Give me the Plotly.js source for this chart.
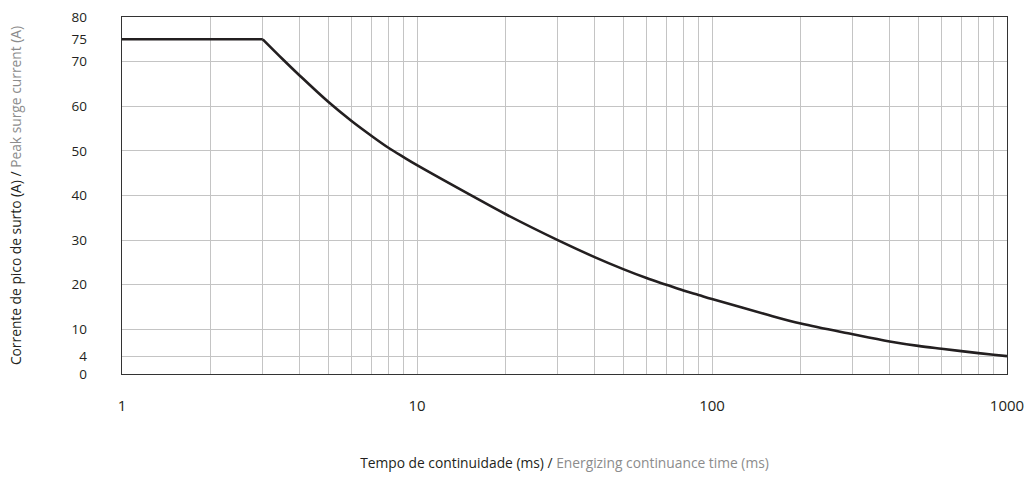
<!DOCTYPE html>
<html>
<head>
<meta charset="utf-8">
<script src="https://cdn.plot.ly/plotly-3.0.1.min.js"></script>
<style>html,body{margin:0;padding:0;background:#fff;}#chart{width:1031px;height:482px;}</style>
</head>
<body>
<div id="chart"></div>
<script>
// Energizing continuance time (ms)
const timeMs = [1, 3, 3.5, 4, 5, 6, 7, 8, 9, 10, 15, 20, 30, 40, 50, 60, 70, 80, 90, 100, 150, 200, 300, 400, 500, 600, 700, 800, 900, 1000];
// Peak surge current (A)
const currentA = [75, 75, 70.6, 66.9, 61.0, 56.7, 53.4, 50.7, 48.6, 46.8, 40.3, 35.8, 30.0, 26.2, 23.5, 21.5, 20.0, 18.7, 17.7, 16.8, 13.5, 11.3, 8.9, 7.3, 6.3, 5.65, 5.12, 4.67, 4.31, 4.0];
// index where the flat rating ends and the decay begins (3 ms)
const kneeIndex = 1;

const xTickVals = [1, 10, 100, 1000];
const xTickText = ['1', '10', '100', '1000'];
const xMinorVals = [2,3,4,5,6,7,8,9,20,30,40,50,60,70,80,90,200,300,400,500,600,700,800,900];
const yTickVals = [0, 4, 10, 20, 30, 40, 50, 60, 70, 75, 80];
const yGridVals = [4, 10, 20, 30, 40, 50, 60, 70];

const fontFam = '"Open Sans", Lato, sans-serif';
const gridCol = '#c4c4c4';
const lineStyle = {color: '#231f20', width: 2.6};

const flat = {
  x: timeMs.slice(0, kneeIndex + 1), y: currentA.slice(0, kneeIndex + 1),
  type: 'scatter', mode: 'lines', line: Object.assign({shape: 'linear'}, lineStyle), hoverinfo: 'x+y'
};
const decay = {
  x: timeMs.slice(kneeIndex), y: currentA.slice(kneeIndex),
  type: 'scatter', mode: 'lines', line: Object.assign({shape: 'spline', smoothing: 1}, lineStyle), hoverinfo: 'x+y'
};

const layout = {
  width: 1031, height: 482,
  margin: {l: 122, r: 24, t: 17, b: 108},
  paper_bgcolor: '#fff', plot_bgcolor: '#fff',
  showlegend: false,
  font: {family: fontFam, color: '#231f20', size: 15},
  xaxis: {
    type: 'log', range: [0, 3],
    tickmode: 'array', tickvals: xTickVals, ticktext: xTickText,
    ticks: 'outside', ticklen: 18, tickcolor: 'rgba(0,0,0,0)',
    showgrid: true, gridcolor: gridCol, gridwidth: 1,
    minor: {tickmode: 'array', tickvals: xMinorVals, showgrid: true, gridcolor: gridCol, gridwidth: 1, ticks: ''},
    showline: true, linecolor: '#333', linewidth: 1.3, mirror: true,
    zeroline: false,
    tickfont: {size: 15, family: fontFam, color: '#231f20'},
    title: {text: 'Tempo de continuidade (ms) / <span style="fill:#8c8c8c">Energizing continuance time (ms)</span>',
            font: {size: 13.8, family: fontFam, color: '#231f20'}, standoff: 44}
  },
  yaxis: {
    type: 'linear', range: [0, 80],
    tickmode: 'array', tickvals: yTickVals,
    ticks: 'outside', ticklen: 31, tickcolor: 'rgba(0,0,0,0)',
    showgrid: false,
    minor: {tickmode: 'array', tickvals: yGridVals, showgrid: true, gridcolor: gridCol, gridwidth: 1, ticks: ''},
    showline: true, linecolor: '#333', linewidth: 1.3, mirror: true,
    zeroline: false,
    tickfont: {size: 13.5, family: fontFam, color: '#231f20'},
    title: {text: 'Corrente de pico de surto (A) / <span style="fill:#8c8c8c">Peak surge current (A)</span>',
            font: {size: 13.8, family: fontFam, color: '#231f20'}, standoff: 46}
  }
};

Plotly.newPlot('chart', [flat, decay], layout, {displayModeBar: false, staticPlot: true});
</script>
</body>
</html>
